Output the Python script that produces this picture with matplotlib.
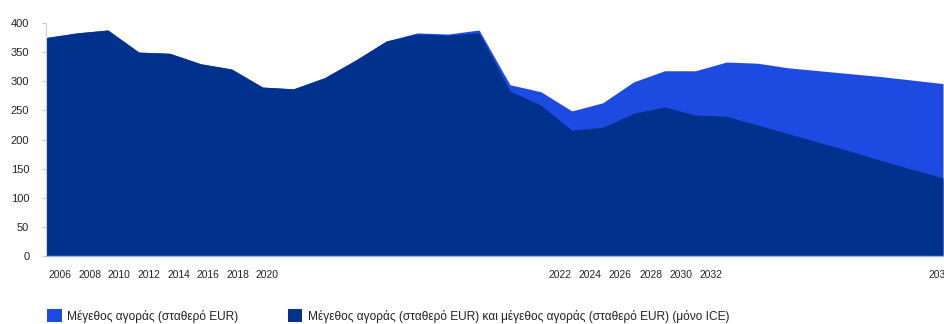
import matplotlib
matplotlib.use("Agg")
import matplotlib.pyplot as plt
from matplotlib.patches import Patch

# Μέγεθος αγοράς ανά έτος (σταθερό EUR)
years = list(range(2006, 2036))
total_market = [375, 383, 388, 350, 348, 330, 321, 290, 287, 306,
                336, 369, 383, 381, 388, 294, 282, 249, 263, 299,
                318, 318, 333, 331, 323, 318, 313, 308, 302, 296]
ice_market = [375, 383, 388, 350, 348, 330, 321, 290, 287, 306,
              336, 369, 381, 379, 383, 283, 259, 216, 221, 245,
              256, 242, 240, 225, 210, 195, 180, 164, 149, 134]

# ετικέτες άξονα x και θέσεις τους
tick_labels = ['2006', '2008', '2010', '2012', '2014', '2016', '2018', '2020',
               '2022', '2024', '2026', '2028', '2030', '2032', '2035']
tick_pos = [2006.45, 2007.41, 2008.37, 2009.32, 2010.28, 2011.24, 2012.19, 2013.15,
            2022.62, 2023.60, 2024.57, 2025.55, 2026.53, 2027.50, 2034.90]

series_labels = ['Μέγεθος αγοράς (σταθερό EUR)',
                 'Μέγεθος αγοράς (σταθερό EUR) και μέγεθος αγοράς (σταθερό EUR) (μόνο ICE)']

light_blue = '#1d4be2'
navy = '#00318c'

plt.rcParams['font.family'] = ['Liberation Sans', 'DejaVu Sans']

fig = plt.figure(figsize=(9.44, 3.24), dpi=100)
ax = fig.add_axes([46 / 944, 1 - 256 / 324, 897 / 944, 233 / 324])

ax.fill_between(years, 0, total_market, color=light_blue, linewidth=0)
ax.fill_between(years, 0, ice_market, color=navy, linewidth=0)

ax.set_xlim(years[0], years[-1])
ax.set_ylim(0, 400)
ax.set_yticks(range(0, 401, 50))
ax.tick_params(axis='y', length=3, width=0.8, color='#c8c8c8', pad=9,
               labelsize=8, labelcolor='#222222')

ax.set_xticks(tick_pos)
ax.set_xticklabels(tick_labels)
ax.tick_params(axis='x', length=0, pad=10, labelsize=7.4, labelcolor='#222222')

for side in ['top', 'right']:
    ax.spines[side].set_visible(False)
ax.spines['left'].set_color('#cfcfcf')
ax.spines['left'].set_linewidth(0.8)
ax.spines['bottom'].set_color('#9db3d6')
ax.spines['bottom'].set_linewidth(1.0)

handles = [Patch(facecolor=light_blue, edgecolor='none'),
           Patch(facecolor=navy, edgecolor='none')]
fig.legend(handles, series_labels, loc='center left',
           bbox_to_anchor=(47 / 944, 1 - 316 / 324), ncol=2, frameon=False,
           fontsize=8.6, handlelength=1.25, handleheight=1.25, handletextpad=0.45,
           columnspacing=4.1, borderpad=0, borderaxespad=0, labelcolor='#222222')

fig.savefig('out.png', dpi=100)
